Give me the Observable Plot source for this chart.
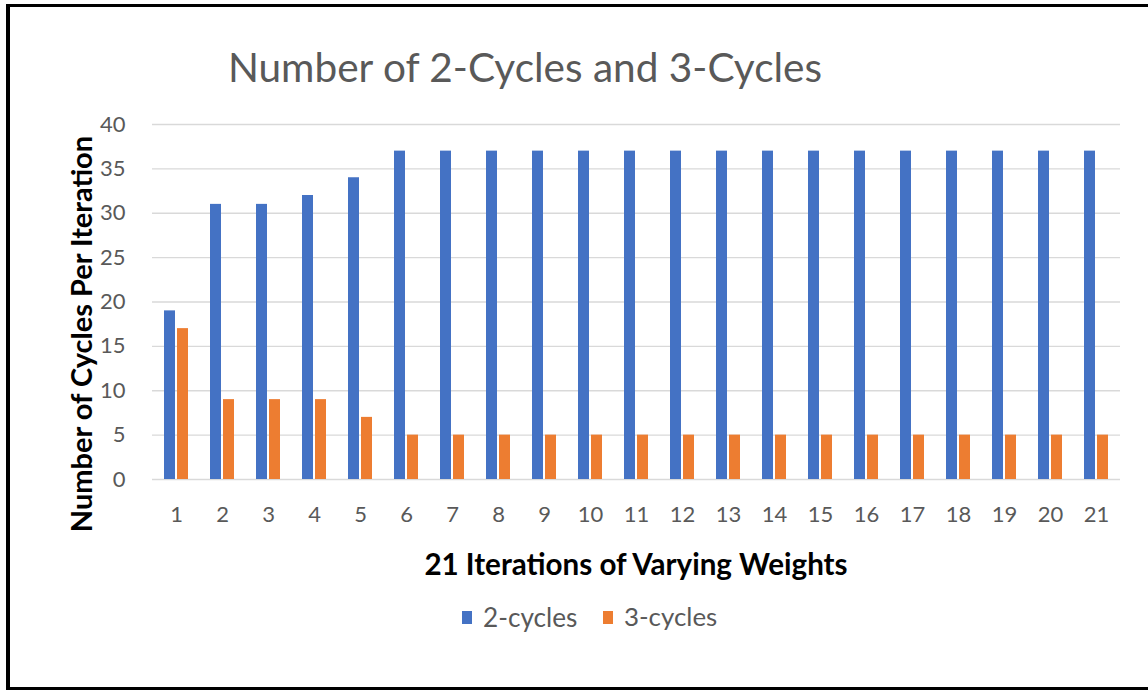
<!DOCTYPE html>
<html><head><meta charset="utf-8">
<script src="https://cdn.jsdelivr.net/npm/d3@7"></script>
<script src="https://cdn.jsdelivr.net/npm/@observablehq/plot@0.6"></script>
<style>
body{margin:0;background:#fff;}
#wrap{position:relative;width:1148px;height:692px;overflow:hidden;font-family:Lato,"Open Sans",sans-serif;background:#fff;}
#wrap svg{position:absolute;left:0;top:0;}
#frame{position:absolute;left:6px;top:4px;width:1200px;height:686px;border-left:4px solid #000;border-top:3px solid #000;border-bottom:3px solid #000;box-sizing:border-box;}
.t{position:absolute;white-space:nowrap;line-height:1;}
.sw{position:absolute;width:10px;height:13px;}
</style></head>
<body>
<div id="wrap"></div>
<script>
// ---- data ----
const iterations = [1,2,3,4,5,6,7,8,9,10,11,12,13,14,15,16,17,18,19,20,21];
const twoCycles   = [19,31,31,32,34,37,37,37,37,37,37,37,37,37,37,37,37,37,37,37,37];
const threeCycles = [17, 9, 9, 9, 7, 5, 5, 5, 5, 5, 5, 5, 5, 5, 5, 5, 5, 5, 5, 5, 5];
const yTicks = [0,5,10,15,20,25,30,35,40];
const seriesNames = ["2-cycles","3-cycles"];
const seriesColors = ["#4472C4","#ED7D31"];
const chartTitle = "Number of 2-Cycles and 3-Cycles";
const xTitle = "21 Iterations of Varying Weights";
const yTitle = "Number of Cycles Per Iteration";

const table = iterations.map((it,i)=>({iter:it, v2:twoCycles[i], v3:threeCycles[i]}));

const wrap = document.getElementById("wrap");
const chart = Plot.plot({
  width:1148, height:692,
  marginLeft:152, marginRight:28, marginTop:124, marginBottom:213,
  style:{fontFamily:"Lato, 'Open Sans', sans-serif", fontSize:"22px", color:"#595959", background:"transparent", overflow:"visible"},
  x:{type:"band", domain:iterations, paddingInner:0.48, paddingOuter:0.24, tickSize:0, tickPadding:27, label:null},
  y:{domain:[0,40], ticks:yTicks, tickSize:0, tickPadding:27, label:null},
  marks:[
    Plot.ruleY(yTicks,{stroke:"#d9d9d9", strokeWidth:1.3}),
    Plot.barY(table,{x:"iter", y:"v2", fill:seriesColors[0], insetRight:13}),
    Plot.barY(table,{x:"iter", y:"v3", fill:seriesColors[1], insetLeft:13})
  ]
});
wrap.appendChild(chart);

function addText(txt, opts){
  const el = document.createElement("div");
  el.className = "t";
  el.textContent = txt;
  el.style.fontSize = opts.size+"px";
  el.style.color = opts.color;
  if (opts.bold) el.style.fontWeight = "700";
  wrap.appendChild(el);
  if (opts.w){ const m = el.offsetWidth; el.style.fontSize = (opts.size*opts.w/m)+"px"; }
  el.style.left = opts.x+"px";
  el.style.top = opts.y+"px";
  el.style.transform = opts.anchor==="start" ? "translateY(-50%)" :
    "translate(-50%,-50%)" + (opts.rotate ? " rotate(-90deg)" : "");
  return el;
}
addText(chartTitle,{x:525, y:67, size:36, w:594, color:"#595959"});
addText(yTitle,{x:81, y:334, size:22, w:397, color:"#000", bold:true, rotate:true});
addText(xTitle,{x:636, y:564, size:24, w:423, color:"#000", bold:true});

// legend
const legX = [462, 603];
const legTextX = [483, 624];
const legW = [94, 93];
seriesNames.forEach((n,i)=>{
  const s = document.createElement("div");
  s.className = "sw";
  s.style.background = seriesColors[i];
  s.style.left = legX[i]+"px";
  s.style.top = "611px";
  wrap.appendChild(s);
  addText(n,{x:legTextX[i], y:617, size:22, w:legW[i], color:"#595959", anchor:"start"});
});

const frame = document.createElement("div");
frame.id = "frame";
wrap.appendChild(frame);
</script>
</body></html>
